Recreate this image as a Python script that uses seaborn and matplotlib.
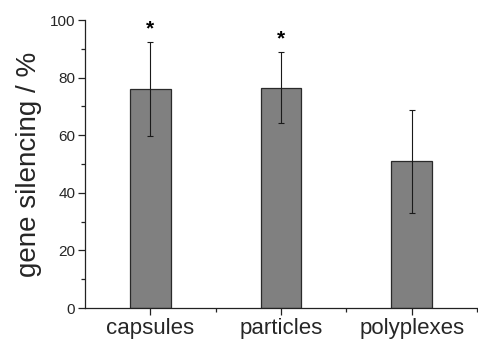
import matplotlib
matplotlib.use("Agg")
import matplotlib.pyplot as plt
from matplotlib.ticker import MultipleLocator, FixedLocator
import seaborn as sns
import pandas as pd

# Knock-down efficiency per delivery vehicle (mean and standard deviation)
categories = ["capsules", "particles", "polyplexes"]
silencing = [76.0, 76.5, 51.0]
silencing_sd = [16.3, 12.4, 17.9]
significant = [True, True, False]
y_ticks = [0, 20, 40, 60, 80, 100]

sns.set_theme(style="ticks")
plt.rcParams["font.family"] = ["Liberation Sans", "DejaVu Sans"]

df = pd.DataFrame({"vehicle": categories, "silencing": silencing})

fig = plt.figure(figsize=(4.78, 3.40), dpi=100)
ax = fig.add_axes([0.178, 0.094, 0.82, 0.847])

sns.barplot(data=df, x="vehicle", y="silencing", color="#808080",
            edgecolor="#2a2a2a", linewidth=0.9, width=0.31,
            saturation=1, errorbar=None, ax=ax)

centers = [p.get_x() + p.get_width() / 2 for p in ax.patches]
ax.errorbar(centers, silencing, yerr=silencing_sd, fmt="none",
            ecolor="#1a1a1a", elinewidth=0.8, capsize=2.2, capthick=0.8)

for xc, m, s, sig in zip(centers, silencing, silencing_sd, significant):
    if sig:
        ax.text(xc, m + s + 1.2, "*", ha="center", va="bottom",
                fontsize=15, fontweight="bold", color="black")

ax.set_xlim(-0.5, 2.5)
ax.set_ylim(0, 100)
ax.set_yticks(y_ticks)
ax.yaxis.set_minor_locator(MultipleLocator(10))
ax.xaxis.set_minor_locator(FixedLocator([0.5, 1.5, 2.5]))

ax.set_xlabel("")
ax.set_ylabel("gene silencing / %", fontsize=20, labelpad=6)

ax.tick_params(axis="x", which="major", direction="out", length=5, width=0.9,
               labelsize=16, pad=2, color="#222222")
ax.tick_params(axis="y", which="major", direction="out", length=5, width=0.9,
               labelsize=11, pad=2, color="#222222")
ax.tick_params(which="minor", direction="out", length=3, width=0.9, color="#222222")

for side in ("top", "right"):
    ax.spines[side].set_visible(False)
for side in ("left", "bottom"):
    ax.spines[side].set_linewidth(0.9)
    ax.spines[side].set_color("#222222")

fig.savefig("out.png", dpi=100)
